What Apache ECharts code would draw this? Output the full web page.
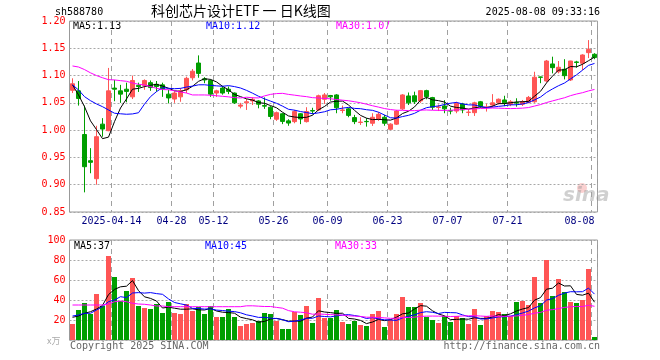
<!DOCTYPE html>
<html><head><meta charset="utf-8">
<script src="https://cdn.jsdelivr.net/npm/echarts@6/dist/echarts.min.js"></script>
<style>html,body{margin:0;padding:0;background:#fff}#c{width:660px;height:360px}</style>
</head><body><div id="c"></div>
<script>
const dates = ['2025-04-02','2025-04-03','2025-04-07','2025-04-08','2025-04-09','2025-04-10','2025-04-11','2025-04-14','2025-04-15','2025-04-16','2025-04-17','2025-04-18','2025-04-21','2025-04-22','2025-04-23','2025-04-24','2025-04-25','2025-04-28','2025-04-29','2025-04-30','2025-05-06','2025-05-07','2025-05-08','2025-05-09','2025-05-12','2025-05-13','2025-05-14','2025-05-15','2025-05-16','2025-05-19','2025-05-20','2025-05-21','2025-05-22','2025-05-23','2025-05-26','2025-05-27','2025-05-28','2025-05-29','2025-05-30','2025-06-03','2025-06-04','2025-06-05','2025-06-06','2025-06-09','2025-06-10','2025-06-11','2025-06-12','2025-06-13','2025-06-16','2025-06-17','2025-06-18','2025-06-19','2025-06-20','2025-06-23','2025-06-24','2025-06-25','2025-06-26','2025-06-27','2025-06-30','2025-07-01','2025-07-02','2025-07-03','2025-07-04','2025-07-07','2025-07-08','2025-07-09','2025-07-10','2025-07-11','2025-07-14','2025-07-15','2025-07-16','2025-07-17','2025-07-18','2025-07-21','2025-07-22','2025-07-23','2025-07-24','2025-07-25','2025-07-28','2025-07-29','2025-07-30','2025-07-31','2025-08-01','2025-08-04','2025-08-05','2025-08-06','2025-08-07','2025-08-08'];
const openP = [1.073,1.072,0.992,0.944,0.911,1.011,0.999,1.077,1.072,1.075,1.061,1.082,1.082,1.087,1.084,1.083,1.066,1.057,1.061,1.074,1.096,1.123,1.094,1.091,1.068,1.077,1.075,1.068,1.044,1.050,1.0535,1.0535,1.045,1.042,1.020,1.030,1.017,1.0156,1.030,1.0156,1.036,1.037,1.0566,1.0635,1.0645,1.036,1.039,1.023,1.014,1.016,1.0126,1.0205,1.0236,1.0016,1.011,1.039,1.0626,1.063,1.0535,1.0724,1.0596,1.0415,1.0443,1.0355,1.035,1.048,1.0325,1.032,1.052,1.0415,1.046,1.050,1.0553,1.0474,1.0505,1.0474,1.051,1.052,1.0975,1.090,1.1213,1.107,1.1115,1.092,1.125,1.1225,1.142,1.139];
const closeP = [1.085,1.058,0.933,0.941,0.988,1.002,1.072,1.075,1.066,1.071,1.091,1.080,1.091,1.078,1.080,1.0755,1.059,1.068,1.072,1.095,1.108,1.104,1.092,1.066,1.072,1.068,1.071,1.050,1.046,1.052,1.0566,1.0475,1.044,1.025,1.032,1.016,1.013,1.034,1.0205,1.034,1.035,1.063,1.0645,1.061,1.041,1.037,1.027,1.0156,1.0148,1.0155,1.0236,1.029,1.0126,1.011,1.035,1.0645,1.050,1.052,1.0724,1.0614,1.042,1.0425,1.039,1.035,1.049,1.037,1.033,1.050,1.044,1.0425,1.050,1.0566,1.050,1.052,1.0497,1.052,1.060,1.097,1.0968,1.1267,1.1145,1.1152,1.0998,1.1267,1.124,1.1377,1.148,1.133];
const lowP = [1.068,1.045,0.886,0.921,0.900,0.988,0.998,1.053,1.050,1.051,1.057,1.070,1.074,1.072,1.0705,1.061,1.049,1.050,1.052,1.068,1.091,1.096,1.086,1.061,1.061,1.065,1.066,1.048,1.040,1.037,1.046,1.040,1.039,1.020,1.017,1.011,1.008,1.0126,1.011,1.014,1.029,1.035,1.048,1.054,1.031,1.031,1.0236,1.011,1.0095,1.0064,1.0077,1.017,1.008,1.000,1.0095,1.037,1.046,1.048,1.050,1.0566,1.037,1.035,1.031,1.029,1.031,1.031,1.026,1.026,1.041,1.034,1.042,1.047,1.044,1.044,1.043,1.0443,1.049,1.050,1.086,1.0877,1.104,1.104,1.093,1.090,1.1145,1.110,1.132,1.130];
const highP = [1.095,1.090,1.045,0.967,1.008,1.022,1.114,1.092,1.083,1.087,1.100,1.087,1.093,1.091,1.090,1.087,1.074,1.071,1.077,1.098,1.112,1.137,1.097,1.093,1.074,1.081,1.080,1.069,1.050,1.057,1.060,1.055,1.060,1.044,1.034,1.031,1.020,1.037,1.031,1.042,1.041,1.065,1.068,1.0645,1.066,1.045,1.041,1.028,1.0236,1.022,1.031,1.033,1.028,1.0126,1.037,1.066,1.069,1.0705,1.0736,1.074,1.061,1.047,1.055,1.041,1.052,1.050,1.038,1.052,1.0535,1.048,1.066,1.058,1.063,1.055,1.0584,1.0553,1.0626,1.107,1.098,1.1286,1.1346,1.1267,1.130,1.127,1.127,1.139,1.165,1.141];
const volume = [16,30,37,26,46,34,84,63,39,49,62,34,32,31,36,27,38,27,26,36,29,33,26,34,23,23,31,23,14,16,17,19,27,26,19,11,11,28,25,34,17,42,22,22,30,18,16,19,15,14,26,29,13,20,26,43,33,33,37,23,20,17,24,18,24,22,16,31,15,24,29,28,26,24,38,39,35,63,37,80,44,61,48,38,37,40,71,3];
const ma5Head = [1.083,1.0645,1.043,1.017];
const ma10Head = [1.083,1.0736,1.0614,1.054,1.048,1.043,1.037,1.031,1.030];
const ma30Head = [1.1176,1.1157,1.111,1.105,1.100,1.096,1.0925,1.092,1.0907,1.0895,1.0864,1.084,1.0828,1.080,1.0767,1.0745,1.074,1.072,1.070,1.068,1.0645,1.0645,1.0645,1.064,1.063,1.062,1.061,1.0596,1.059];
const vma5Head = [22.7,24,26.7,28.3];
const vma10Head = [24,25,26.7,26.7,30,33.3,38.3,40,43.3];
const vma30Head = [35,35,35,35,35,35,36,38.3,39,38.3,36.7,36,35.7,35,34,34,33.3,33.3,33.3,33.3,33.3,33.3,33.3,33.3,33.3,33.3,33.3,33.3,33.3];
const tickDates = ['2025-04-14','2025-04-28','2025-05-12','2025-05-26','2025-06-09','2025-06-23','2025-07-07','2025-07-21','2025-08-08'];
const priceTicks = [0.85,0.90,0.95,1.00,1.05,1.10,1.15,1.20];
const volTicks = [0,20,40,60,80,100];
const legendPrice = ['MA5:1.13','MA10:1.12','MA30:1.07'];
const legendVol = ['MA5:37','MA10:45','MA30:33'];

function ma(arr, n, head){
  return arr.map((v,i)=> i < n-1 ? head[i] : arr.slice(i-n+1,i+1).reduce((a,b)=>a+b,0)/n);
}
const tickIdx = tickDates.map(d=>dates.indexOf(d));
const RED='#ff5555', GREEN='#009e00';
const MONO='"DejaVu Sans Mono", "Liberation Mono", monospace';
const kData = dates.map((d,i)=>[openP[i],closeP[i],lowP[i],highP[i]]);
const volData = volume.map((v,i)=>({value:v,itemStyle:{color: closeP[i]>=openP[i]?RED:GREEN}}));
const GL = 69.5, GW = 528;

const chart = echarts.init(document.getElementById('c'), null, {renderer:'canvas'});
const lineS = (name,data,color,xi,yi)=>({name,type:'line',data,xAxisIndex:xi,yAxisIndex:yi,showSymbol:false,symbol:'none',
  lineStyle:{color,width:1},itemStyle:{color},z:5,silent:true});
const lastTick = tickDates[tickDates.length-1];
chart.setOption({
  animation:false,
  backgroundColor:'#fff',
  grid:[
    {left:GL,width:GW,top:21,height:191,show:true,borderColor:'#999',borderWidth:1,backgroundColor:'transparent'},
    {left:GL,width:GW,top:240,height:100,show:true,borderColor:'#999',borderWidth:1,backgroundColor:'transparent'}
  ],
  xAxis:[
    {type:'category',gridIndex:0,data:dates,boundaryGap:true,
     axisLine:{show:false},axisTick:{show:false},
     axisLabel:{interval:(i)=>tickIdx.includes(i),
       formatter:(v)=> v===lastTick ? '{b|'+v.slice(5)+'}' : '{a|'+(v===tickDates[0]?v:v.slice(5))+'}',
       rich:{a:{padding:[0,6,0,0],color:'#000080',fontSize:10,fontFamily:MONO},b:{color:'#000080',fontSize:10,fontFamily:MONO}},
       color:'#000080',fontSize:10,fontFamily:MONO,margin:4,alignMaxLabel:'right'},
     splitLine:{show:true,interval:(i)=>tickIdx.includes(i),lineStyle:{color:'#a0a0a0',type:[5,4],width:1}}},
    {type:'category',gridIndex:1,data:dates,boundaryGap:true,
     axisLine:{show:false},axisTick:{show:false},axisLabel:{show:false},
     splitLine:{show:true,interval:(i)=>tickIdx.includes(i),lineStyle:{color:'#a0a0a0',type:[5,4],width:1}}}
  ],
  yAxis:[
    {type:'value',gridIndex:0,min:priceTicks[0],max:priceTicks[priceTicks.length-1],interval:0.05,
     axisLine:{show:false},axisTick:{show:false},
     axisLabel:{color:'#ff0000',fontSize:10,fontFamily:MONO,margin:4,formatter:(v)=>v.toFixed(2)},
     splitLine:{show:true,lineStyle:{color:'#a8a8a8',type:[2,2],width:1}}},
    {type:'value',gridIndex:1,min:volTicks[0],max:volTicks[volTicks.length-1],interval:20,
     axisLine:{show:false},axisTick:{show:false},
     axisLabel:{color:'#ff0000',fontSize:10,fontFamily:MONO,margin:4,formatter:(v)=>v===0?'':String(v)},
     splitLine:{show:true,lineStyle:{color:'#a8a8a8',type:[2,2],width:1}}}
  ],
  series:[
    {type:'candlestick',data:kData,xAxisIndex:0,yAxisIndex:0,barWidth:5,
     itemStyle:{color:RED,color0:GREEN,borderColor:RED,borderColor0:GREEN,borderWidth:1},silent:true,z:3},
    lineS('MA5',ma(closeP,5,ma5Head),'#000000',0,0),
    lineS('MA10',ma(closeP,10,ma10Head),'#0000ff',0,0),
    lineS('MA30',ma(closeP,30,ma30Head),'#ff00ff',0,0),
    {type:'bar',data:volData,xAxisIndex:1,yAxisIndex:1,barWidth:5,silent:true,z:3},
    lineS('VMA5',ma(volume,5,vma5Head),'#000000',1,1),
    lineS('VMA10',ma(volume,10,vma10Head),'#0000ff',1,1),
    lineS('VMA30',ma(volume,30,vma30Head),'#ff00ff',1,1)
  ],
  graphic:[
    {type:'text',left:55,top:7,style:{text:'sh588780',font:'10px '+MONO,fill:'#000'}},
    {type:'text',left:151,top:4,style:{text:'科创芯片设计ETF 一 日K线图',font:'14px "Noto Sans CJK SC"',fill:'#000'}},
    {type:'text',right:60,top:7,style:{text:'2025-08-08 09:33:16',font:'10px '+MONO,fill:'#000'}},
    {type:'text',left:73,top:21,style:{text:legendPrice[0],font:'10px '+MONO,fill:'#000'}},
    {type:'text',left:206,top:21,style:{text:legendPrice[1],font:'10px '+MONO,fill:'#0000ff'}},
    {type:'text',left:336,top:21,style:{text:legendPrice[2],font:'10px '+MONO,fill:'#ff00ff'}},
    {type:'text',left:74,top:241,style:{text:legendVol[0],font:'10px '+MONO,fill:'#000'}},
    {type:'text',left:205,top:241,style:{text:legendVol[1],font:'10px '+MONO,fill:'#0000ff'}},
    {type:'text',left:335,top:241,style:{text:legendVol[2],font:'10px '+MONO,fill:'#ff00ff'}},
    {type:'text',left:47,top:336,style:{text:'x万',font:'9px "Noto Sans CJK SC"',fill:'#aaa'}},
    {type:'text',left:70,top:341,style:{text:'Copyright 2025 SINA.COM',font:'10px '+MONO,fill:'#666'}},
    {type:'text',right:60,top:341,style:{text:'http://finance.sina.com.cn',font:'10px '+MONO,fill:'#666'}},
    {type:'circle',shape:{cx:582,cy:188,r:5},style:{fill:'rgba(240,120,120,0.35)'}},
    {type:'text',left:563,top:186,style:{text:'sina',font:'italic bold 20px "DejaVu Sans"',fill:'rgba(150,150,150,0.45)'}}
  ]
});
</script></body></html>
